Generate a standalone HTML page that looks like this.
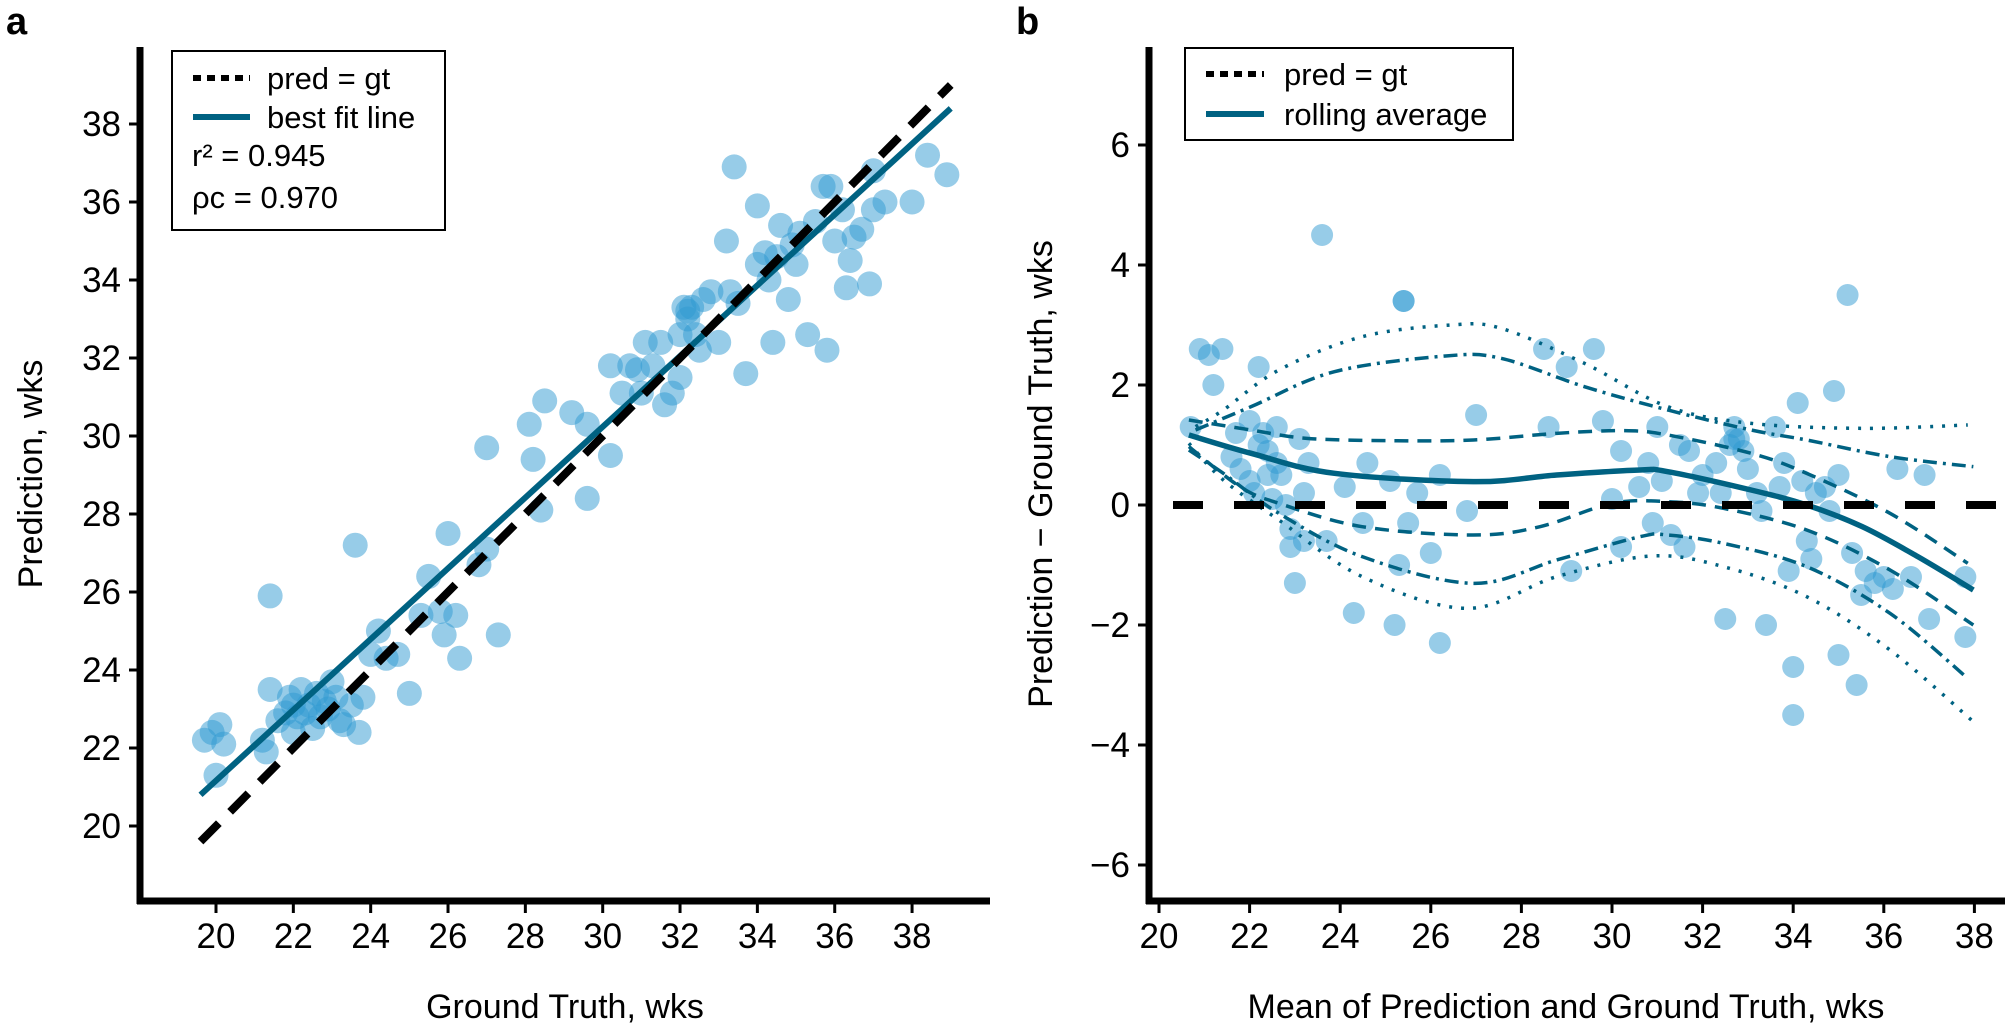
<!DOCTYPE html>
<html><head><meta charset="utf-8">
<style>
html,body{margin:0;padding:0;background:#fff;}
svg{display:block;font-family:"Liberation Sans",sans-serif;}
</style></head>
<body>
<svg id="s" width="2007" height="1028" viewBox="0 0 2007 1028" xmlns="http://www.w3.org/2000/svg">
<rect width="2007" height="1028" fill="#fff"/>
<g id="pts"></g>
<g id="lines"></g>
<line x1="140" y1="47" x2="140" y2="904" stroke="#000" stroke-width="7"/>
<line x1="137" y1="901" x2="990" y2="901" stroke="#000" stroke-width="7"/>
<g id="lt" stroke="#000" stroke-width="3"></g>
<g id="ltx" font-size="35" fill="#000"></g>
<text x="0" y="0" font-size="34" text-anchor="middle" transform="translate(42,474) rotate(-90)">Prediction, wks</text>
<text x="565" y="1018" font-size="34" text-anchor="middle">Ground Truth, wks</text>
<text x="6" y="34" font-size="38" font-weight="bold">a</text>
<line x1="1149" y1="47" x2="1149" y2="904" stroke="#000" stroke-width="7"/>
<line x1="1146" y1="901" x2="2005" y2="901" stroke="#000" stroke-width="7"/>
<text x="0" y="0" font-size="34" text-anchor="middle" transform="translate(1052,474) rotate(-90)">Prediction − Ground Truth, wks</text>
<text x="1566" y="1018" font-size="34" text-anchor="middle">Mean of Prediction and Ground Truth, wks</text>
<text x="1016" y="34" font-size="38" font-weight="bold">b</text>
<rect x="172" y="51" width="273" height="179" fill="#fff" stroke="#000" stroke-width="2"/>
<line x1="193" y1="78" x2="250" y2="78" stroke="#000" stroke-width="6" stroke-dasharray="8,6"/>
<text x="267" y="89" font-size="31">pred = gt</text>
<line x1="193" y1="117" x2="250" y2="117" stroke="#006282" stroke-width="6"/>
<text x="267" y="128" font-size="31">best fit line</text>
<text x="192" y="166" font-size="31">r² = 0.945</text>
<text x="192" y="208" font-size="31">ρc = 0.970</text>
<rect x="1185" y="48" width="328" height="92" fill="#fff" stroke="#000" stroke-width="2"/>
<line x1="1206" y1="74" x2="1264" y2="74" stroke="#000" stroke-width="6" stroke-dasharray="8,6"/>
<text x="1284" y="85" font-size="31">pred = gt</text>
<line x1="1206" y1="114" x2="1264" y2="114" stroke="#006282" stroke-width="6"/>
<text x="1284" y="125" font-size="31">rolling average</text>
</svg>
<script>
var NS="http://www.w3.org/2000/svg";
function el(t,a,p){var e=document.createElementNS(NS,t);for(var k in a)e.setAttribute(k,a[k]);if(p)p.appendChild(e);return e;}
var S=document.getElementById('s');
var pts=document.getElementById('pts'),lines=document.getElementById('lines');
var lx=function(v){return 216+(v-20)*38.67;}, ly=function(v){return 124+(38-v)*39;};
var rx=function(v){return 1159+(v-20)*45.3;}, ry=function(v){return 505-60*v;};
var ticks=S.querySelector('#lt'), tl=S.querySelector('#ltx');
for(var v=20;v<=38;v+=2){
 el('line',{x1:lx(v),y1:904,x2:lx(v),y2:913},ticks);
 var t=el('text',{x:lx(v),y:948,'text-anchor':'middle'},tl);t.textContent=v;
 el('line',{x1:129,y1:ly(v),x2:137,y2:ly(v)},ticks);
 t=el('text',{x:121,y:ly(v)+12,'text-anchor':'end'},tl);t.textContent=v;
 el('line',{x1:rx(v),y1:904,x2:rx(v),y2:913},ticks);
 t=el('text',{x:rx(v),y:948,'text-anchor':'middle'},tl);t.textContent=v;
}
for(var v=-6;v<=6;v+=2){
 el('line',{x1:1138,y1:ry(v),x2:1146,y2:ry(v)},ticks);
 var t=el('text',{x:1130,y:ry(v)+12,'text-anchor':'end'},tl);t.textContent=(v<0?'−'+(-v):v);
}
var L=[[19.7,22.2],[19.9,22.4],[20.1,22.6],[20.2,22.1],[20,21.3],[21.2,22.2],[21.3,21.9],[21.4,25.9],[21.4,23.5],[21.6,22.7],[21.8,22.9],[22,22.4],[22,23.1],[22.2,23.5],[22.3,22.9],[22.4,23.1],[22.5,22.5],[22.6,23.4],[22.7,22.8],[22.8,23.2],[23,23.7],[23.1,23.3],[23.2,22.7],[23.3,22.6],[23.5,23.1],[23.7,22.4],[23.6,27.2],[23.8,23.3],[24,24.4],[24.2,25],[24.4,24.3],[24.7,24.4],[25,23.4],[25.3,25.4],[25.5,26.4],[25.8,25.5],[26,27.5],[26.2,25.4],[26.3,24.3],[25.9,24.9],[26.8,26.7],[27,27.1],[27,29.7],[27.3,24.9],[28.1,30.3],[28.2,29.4],[28.4,28.1],[28.5,30.9],[29.2,30.6],[29.6,30.3],[29.6,28.4],[30.2,29.5],[30.2,31.8],[30.5,31.1],[30.7,31.8],[30.9,31.7],[31,31.1],[31.1,32.4],[31.3,31.8],[31.5,32.4],[31.6,30.8],[31.8,31.1],[32,31.5],[32,32.6],[32.1,33.3],[32.2,33.2],[32.3,33.3],[32.4,32.6],[32.5,32.2],[32.6,33.5],[32.8,33.7],[33,32.4],[33.2,35],[33.3,33.7],[33.4,36.9],[33.5,33.4],[33.7,31.6],[34,34.4],[34,35.9],[34.2,34.7],[34.3,34],[34.4,32.4],[34.5,34.6],[34.6,35.4],[34.8,33.5],[34.9,34.9],[35,34.4],[35.1,35.2],[35.3,32.6],[35.5,35.5],[35.8,32.2],[35.9,36.4],[36,35],[36.2,35.8],[36.3,33.8],[36.4,34.5],[36.5,35.1],[36.7,35.3],[36.9,33.9],[37,36.8],[37.3,36],[38,36],[38.4,37.2],[38.9,36.7],[37,35.8],[35.7,36.4],[22.1,22.8],[22.9,23.0],[21.9,23.3],[32.2,33.0]];
L.forEach(function(p){el('circle',{cx:lx(p[0]),cy:ly(p[1]),r:12.5,fill:'#2f9ad2','fill-opacity':0.5},pts);});
var R=[[20.7,1.3],[20.9,2.6],[21.1,2.5],[21.2,2.0],[21.4,2.6],[21.6,0.8],[21.7,1.2],[21.8,0.6],[22,0.4],[22,1.4],[22.1,0.2],[22.2,2.3],[22.2,1],[22.3,1.2],[22.4,0.5],[22.5,0.1],[22.6,1.3],[22.6,0.7],[22.8,0.0],[22.9,-0.4],[22.9,-0.7],[23,-1.3],[23.1,1.1],[23.2,0.2],[23.2,-0.6],[23.3,0.7],[23.6,4.5],[23.7,-0.6],[24.1,0.3],[24.3,-1.8],[24.5,-0.3],[24.6,0.7],[25.1,0.4],[25.2,-2.0],[25.3,-1.0],[25.4,3.4],[25.5,-0.3],[25.7,0.2],[26,-0.8],[26.2,0.5],[26.2,-2.3],[26.8,-0.1],[27,1.5],[28.5,2.6],[28.6,1.3],[29,2.3],[29.1,-1.1],[29.6,2.6],[29.8,1.4],[30,0.1],[30.2,-0.7],[30.2,0.9],[30.6,0.3],[30.8,0.7],[30.9,-0.3],[31,1.3],[31.1,0.4],[31.3,-0.5],[31.5,1.0],[31.6,-0.7],[31.7,0.9],[31.9,0.2],[32,0.5],[32.3,0.7],[32.4,0.2],[32.5,-1.9],[32.6,1.0],[32.7,1.3],[32.8,1.1],[32.9,0.9],[33,0.6],[33.3,-0.1],[33.4,-2.0],[33.6,1.3],[33.8,0.7],[33.9,-1.1],[34,-2.7],[34,-3.5],[34.1,1.7],[34.2,0.4],[34.3,-0.6],[34.4,-0.9],[34.5,0.2],[34.7,0.3],[34.9,1.9],[35,0.5],[35,-2.5],[35.2,3.5],[35.3,-0.8],[35.4,-3.0],[35.5,-1.5],[35.6,-1.1],[35.8,-1.3],[36,-1.2],[36.2,-1.4],[36.3,0.6],[36.6,-1.2],[36.9,0.5],[37,-1.9],[37.8,-1.2],[37.8,-2.2],[33.2,0.2],[33.7,0.3],[34.8,-0.1],[22.4,0.9],[22.7,0.5],[32.7,1.1],[25.4,3.4]];
R.forEach(function(p){el('circle',{cx:rx(p[0]),cy:ry(p[1]),r:11,fill:'#2f9ad2','fill-opacity':0.5},pts);});
el('line',{x1:lx(19.6),y1:ly(20.8),x2:lx(39),y2:ly(38.4),stroke:'#006282','stroke-width':6},lines);
el('line',{x1:lx(19.6),y1:ly(19.6),x2:lx(39),y2:ly(39),stroke:'#000','stroke-width':8,'stroke-dasharray':'26,16'},lines);
function smooth(z){var p=z.map(function(a){return [1140+a[0]/1.8,300+a[1]/3];});
 var d='M'+p[0][0]+','+p[0][1];
 for(var i=0;i<p.length-1;i++){var p0=p[Math.max(0,i-1)],p1=p[i],p2=p[i+1],p3=p[Math.min(p.length-1,i+2)];
  d+=' C'+(p1[0]+(p2[0]-p0[0])/6)+','+(p1[1]+(p2[1]-p0[1])/6)+' '+(p2[0]-(p3[0]-p1[0])/6)+','+(p2[1]-(p3[1]-p1[1])/6)+' '+p2[0]+','+p2[1];}
 return d;}
var C='#006282';
var curves=[
 [[[88,405],[200,460],[350,520],[600,545],[750,525],[900,510],[950,515],[1100,570],[1200,615],[1300,680],[1400,770],[1500,870]],5.5,''],
 [[[88,360],[200,390],[300,415],[450,422],[600,420],[750,400],[870,392],[950,405],[1100,460],[1200,520],[1350,640],[1490,790]],3.5,'14,9'],
 [[[88,440],[180,560],[250,610],[400,680],[600,705],[720,680],[850,610],[950,605],[1050,625],[1200,690],[1350,810],[1500,975]],3.5,'14,9'],
 [[[100,390],[200,320],[350,215],[550,168],[650,175],[800,260],[950,330],[1100,390],[1200,420],[1350,470],[1500,500]],3.5,'14,6,3,6'],
 [[[88,450],[150,520],[250,640],[400,770],[600,850],[750,780],[900,710],[950,705],[1050,730],[1200,800],[1350,940],[1490,1135]],3.5,'14,6,3,6'],
 [[[100,380],[150,330],[250,210],[400,110],[560,75],[650,85],[800,190],[950,320],[1100,370],[1300,385],[1490,375]],3.5,'3,9'],
 [[[88,430],[150,540],[250,660],[400,830],[590,925],[750,830],[920,768],[1050,800],[1200,890],[1350,1050],[1500,1265]],3.5,'3,9']
];
curves.forEach(function(c){var a={d:smooth(c[0]),fill:'none',stroke:C,'stroke-width':c[1]};if(c[2])a['stroke-dasharray']=c[2];el('path',a,lines);});
el('line',{x1:1173,y1:ry(0),x2:2005,y2:ry(0),stroke:'#000','stroke-width':8,'stroke-dasharray':'30,31'},lines);
</script>
</body></html>
